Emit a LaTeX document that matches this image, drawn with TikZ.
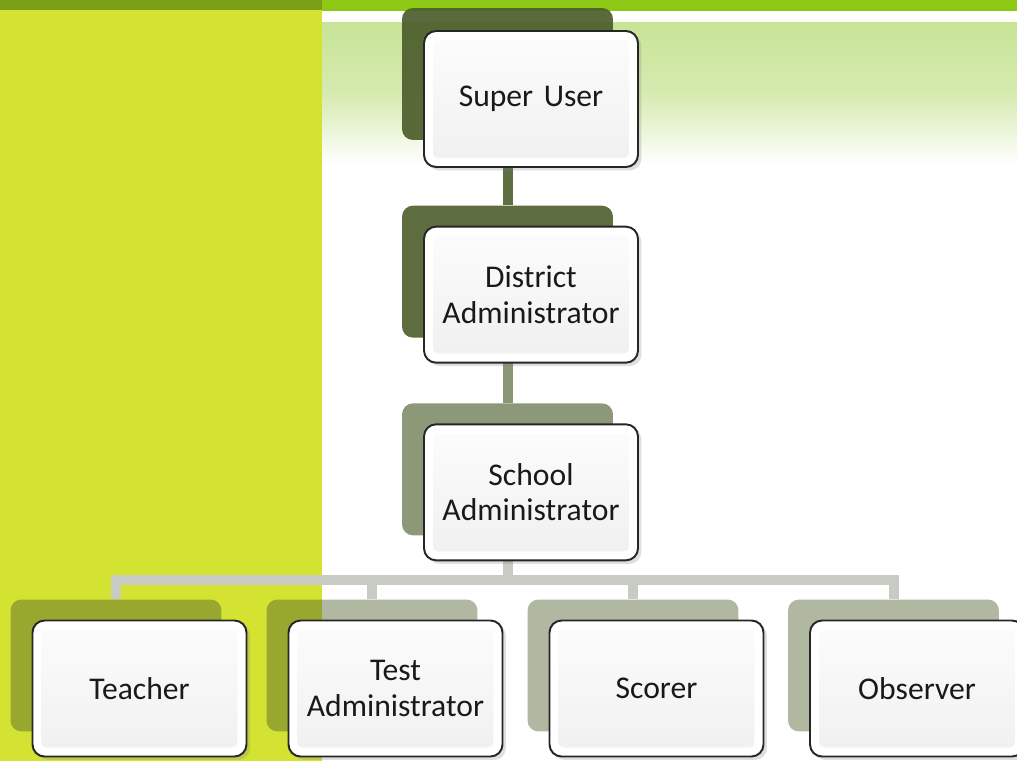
\documentclass[tikz,border=0pt]{standalone}
\usepackage{fontspec}
\setmainfont{Carlito}
\usetikzlibrary{positioning,calc,shadows}
\definecolor{panelyellow}{RGB}{212,226,50}
\definecolor{bardark}{RGB}{122,158,23}
\definecolor{barbright}{RGB}{140,200,20}
\definecolor{fadegreen}{RGB}{200,228,150}
\definecolor{rolegreen}{RGB}{76,94,44}
\definecolor{linkgrey}{RGB}{200,203,195}

\begin{document}
\begin{tikzpicture}[
    x=0.02cm, y=-0.02cm,
    backbox/.style={rectangle, rounded corners=0.22cm, fill=rolegreen,
                    minimum width=4.22cm, minimum height=2.64cm, inner sep=0pt},
    frontbox/.style={rectangle, rounded corners=0.24cm, draw=black!85, line width=1.1pt,
                     fill=white, minimum width=4.28cm, minimum height=2.72cm,
                     text width=4cm, align=center, text=black!90,
                     font=\fontsize{18}{20}\selectfont,
                     drop shadow={shadow xshift=0.07cm, shadow yshift=-0.07cm, opacity=0.25},
                     path picture={\shade[top color=black!1, bottom color=black!6, rounded corners=0.1cm]
                        ([xshift=0.18cm,yshift=-0.18cm]path picture bounding box.north west) rectangle
                        ([xshift=-0.18cm,yshift=0.18cm]path picture bounding box.south east);}},
    link/.style={line width=0.2cm}
]

% background
\useasboundingbox (0,0) rectangle (1017,761);
\fill[white] (0,0) rectangle (1017,761);
\shade[top color=fadegreen, bottom color=white, middle color=fadegreen!75] (322,22) rectangle (1017,165);
\fill[barbright] (322,0) rectangle (1017,11);
\fill[panelyellow] (0,0) rectangle (322,761);
\fill[bardark] (0,0) rectangle (322,10);

% back plates
\node[backbox, fill opacity=0.92] (su) at (507.5,74) {};
\node[backbox, below=1.3cm of su, fill opacity=0.9] (district) {};
\node[backbox, below=1.3cm of district, fill opacity=0.64] (school) {};
\node[backbox, fill opacity=0.44] (teacher) at (116,665.5) {};
\node[backbox, fill opacity=0.44] (testadmin) at (372,665.5) {};
\node[backbox, fill opacity=0.44] (scorer) at (633,665.5) {};
\node[backbox, fill opacity=0.44] (observer) at (893.5,665.5) {};

% links
\coordinate (hub) at ($(school.south)+(0,44)$);
\draw[link, rolegreen!90!white] (su.south) -- (district.north);
\draw[link, rolegreen!65!white] (district.south) -- (school.north);
\draw[link, linkgrey] (school.south) -- (hub);
\draw[link, linkgrey] (teacher.north) -- (teacher.north |- hub) -- (observer.north |- hub) -- (observer.north);
\draw[link, linkgrey] (testadmin.north) -- (testadmin.north |- hub);
\draw[link, linkgrey] (scorer.north) -- (scorer.north |- hub);

% front boxes
\node[frontbox] (su-f) at ($(su)+(23.5,25)$) {Super User};
\node[frontbox] (district-f) at ($(district)+(23.5,23)$) {District\\Administrator};
\node[frontbox] (school-f) at ($(school)+(23.5,23)$) {School\\Administrator};
\node[frontbox] (teacher-f) at ($(teacher)+(23.5,23)$) {Teacher};
\node[frontbox] (testadmin-f) at ($(testadmin)+(23.5,23)$) {Test\\Administrator};
\node[frontbox] (scorer-f) at ($(scorer)+(23.5,23)$) {Scorer};
\node[frontbox] (observer-f) at ($(observer)+(23.5,23)$) {Observer};

\end{tikzpicture}
\end{document}
